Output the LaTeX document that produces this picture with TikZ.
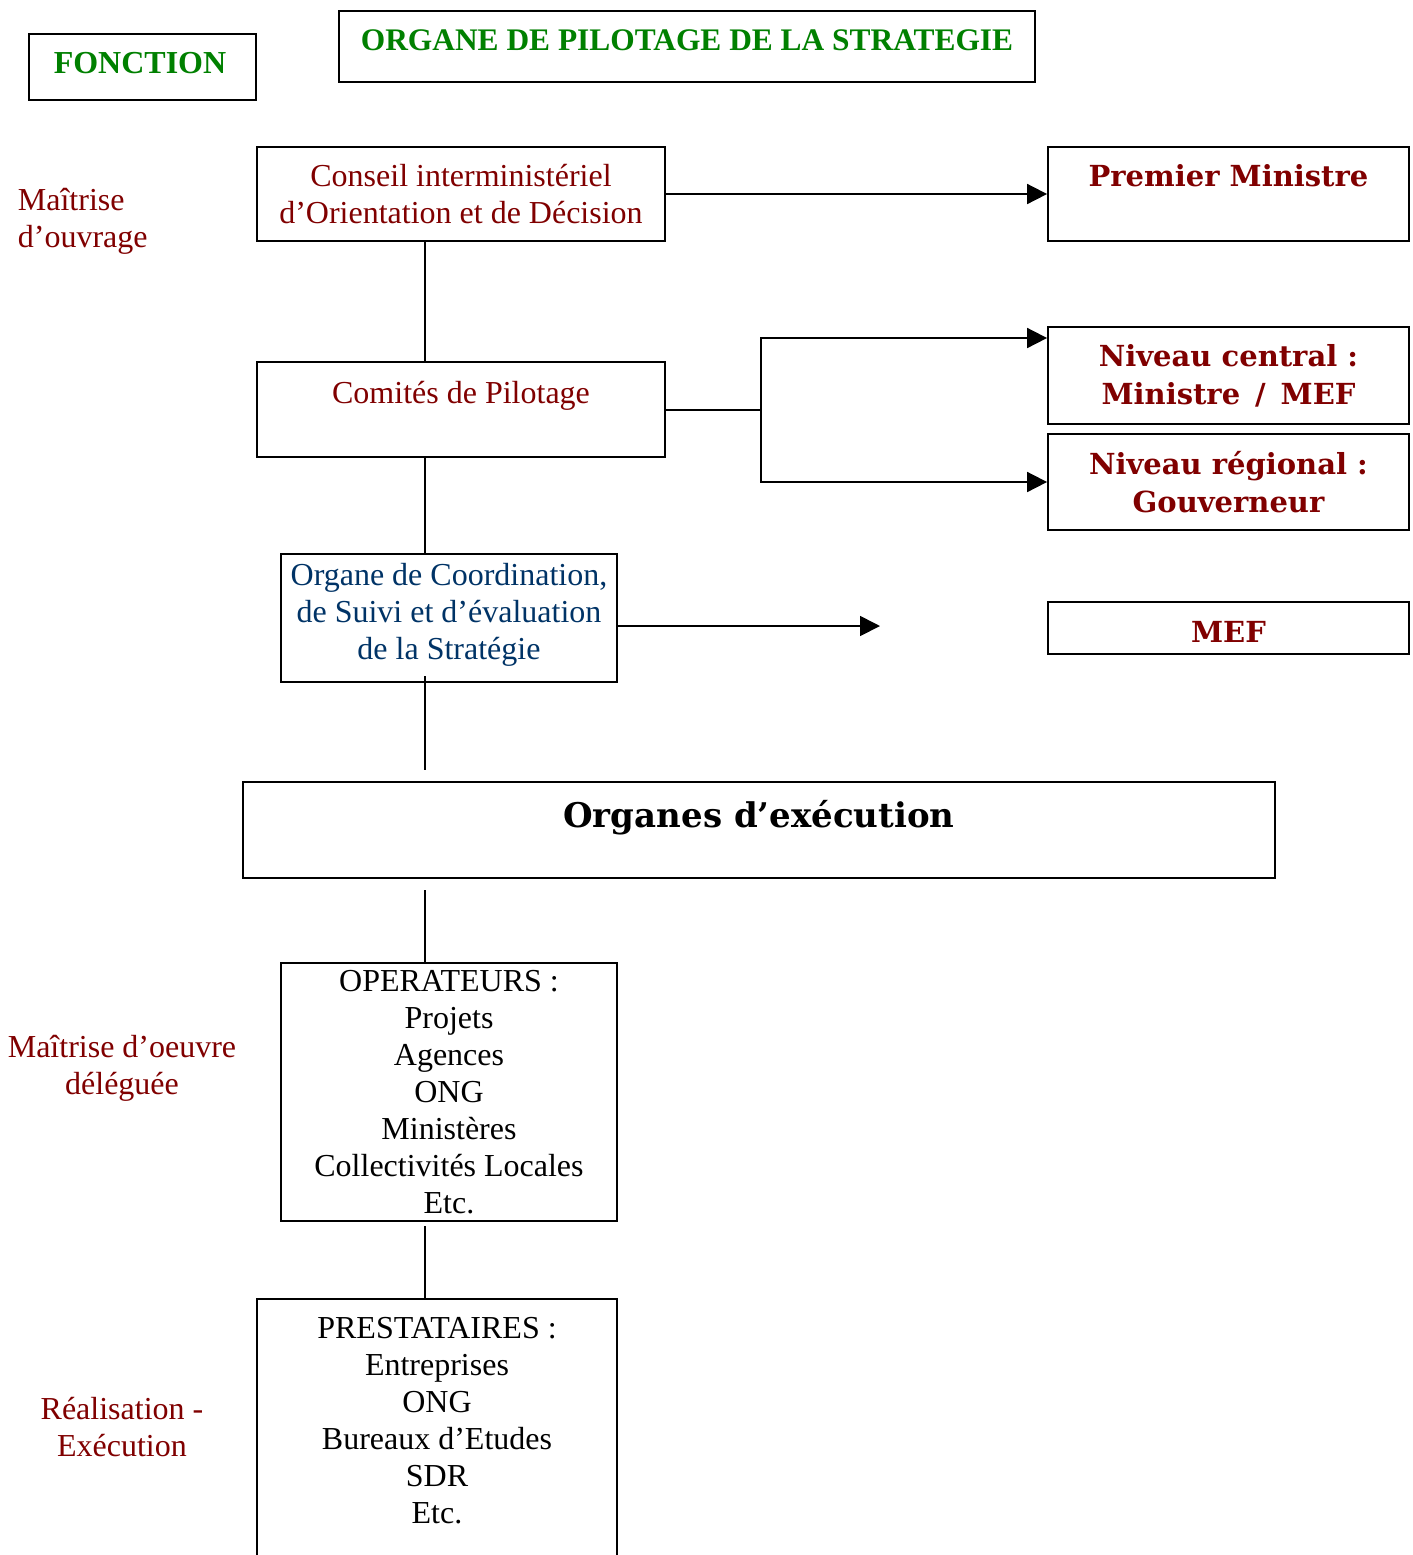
\documentclass[tikz,border=0pt]{standalone}
\usepackage{fontspec}
\setmainfont{Liberation Serif}
\newfontfamily\larges{DejaVu Serif}
\usetikzlibrary{arrows.meta}
\definecolor{brique}{RGB}{128,0,0}
\definecolor{vert}{RGB}{0,128,0}
\definecolor{marine}{RGB}{0,51,102}
\newcommand{\corps}{\fontsize{16}{18.5}\selectfont}
\newcommand{\gras}{\larges\bfseries\fontsize{14.5}{19}\selectfont}

\begin{document}
\begin{tikzpicture}[x=0.5pt, y=-0.5pt, >={Triangle[length=10pt, width=10pt]}, line width=0.9pt,
  every node/.style={font=\corps, inner sep=0pt},
  cadre/.style={draw, line width=0.9pt}]
\clip (0,0) rectangle (1413,1555);
% en-tete
\node[cadre, minimum width=113.5pt, minimum height=33pt] (fonction) at (142.5,67) {};
\node[anchor=base, text=vert, font=\corps\bfseries] (fonction-t) at (140,73) {FONCTION};
\node[cadre, minimum width=348pt, minimum height=35.5pt] (pilotage) at (687,46.5) {};
\node[anchor=base, text=vert, font=\fontsize{15.7}{18.5}\selectfont\bfseries] (pilotage-t) at (687,50) {ORGANE DE PILOTAGE DE LA STRATEGIE};
% colonne de gauche
\node[anchor=west, align=left, text=brique] (mo) at (17,221) {Maîtrise\\d’ouvrage};
\node[align=center, text=brique] (moe) at (122,1068) {Maîtrise d’oeuvre\\déléguée};
\node[align=center, text=brique] (real) at (122,1427) {Réalisation -\\Exécution};
% organes
\node[cadre, minimum width=204pt, minimum height=47pt, text=brique, align=center] (conseil) at (461,194) {Conseil interministériel\\d’Orientation et de Décision};
\node[cadre, minimum width=204pt, minimum height=47.5pt] (comites) at (461,409.5) {};
\node[anchor=base, text=brique] (comites-t) at (461,403) {Comités de Pilotage};
\node[cadre, minimum width=168pt, minimum height=64pt] (coord) at (449,618) {};
\node[align=center, text=marine] (coord-t) at (449,614.5) {Organe de Coordination,\\de Suivi et d’évaluation\\de la Stratégie};
\node[cadre, minimum width=516pt, minimum height=48pt] (organes) at (759,830) {};
\node[anchor=base, font=\larges\bfseries\fontsize{17}{20}\selectfont] (organes-t) at (759,827) {Organes d’exécution};
\node[cadre, minimum width=168pt, minimum height=129pt, align=center] (operateurs) at (449,1092) {OPERATEURS :\\Projets\\Agences\\ONG\\Ministères\\Collectivités Locales\\Etc.};
\node[cadre, minimum width=180pt, minimum height=150.5pt] (prestataires) at (437,1449.5) {};
\node[align=center] (prestataires-t) at (437,1421) {PRESTATAIRES :\\Entreprises\\ONG\\Bureaux d’Etudes\\SDR\\Etc.};
% colonne de droite
\node[cadre, minimum width=180.5pt, minimum height=47pt] (premier) at (1228.5,194) {};
\node[anchor=base, text=brique, font=\gras] (premier-t) at (1228.5,186) {Premier Ministre};
\node[cadre, minimum width=180.5pt, minimum height=48.5pt, text=brique, font=\gras, align=center] (central) at (1228.5,375.5) {Niveau central :\\Ministre \,/\, MEF};
\node[cadre, minimum width=180.5pt, minimum height=48pt, text=brique, font=\gras, align=center] (regional) at (1228.5,482) {Niveau régional :\\Gouverneur};
\node[cadre, minimum width=180.5pt, minimum height=26pt] (mef) at (1228.5,628) {};
\node[anchor=base, text=brique, font=\gras] (mef-t) at (1228.5,642) {MEF};
% liaisons
\coordinate (axe) at (425,0);
\coordinate (c1) at (425,676);
\coordinate (c2) at (425,770);
\coordinate (c3) at (425,890);
\coordinate (c4) at (425,1226);
\coordinate (fourche) at (761,410);
\coordinate (fleche) at (880,626);
\draw (conseil.south -| axe) -- (comites.north -| axe);
\draw (comites.south -| axe) -- (coord.north -| axe);
\draw (c1) -- (c2);
\draw (c3) -- (operateurs.north -| axe);
\draw (c4) -- (prestataires.north -| axe);
\draw[->] (conseil.east) -- (premier.west);
\draw (comites.east |- fourche) -- (fourche);
\draw[->] (fourche) |- ([yshift=18.75pt]central.west);
\draw[->] (fourche) |- (regional.west);
\draw[->] ([yshift=-4pt]coord.east) -- (fleche);
\end{tikzpicture}
\end{document}
